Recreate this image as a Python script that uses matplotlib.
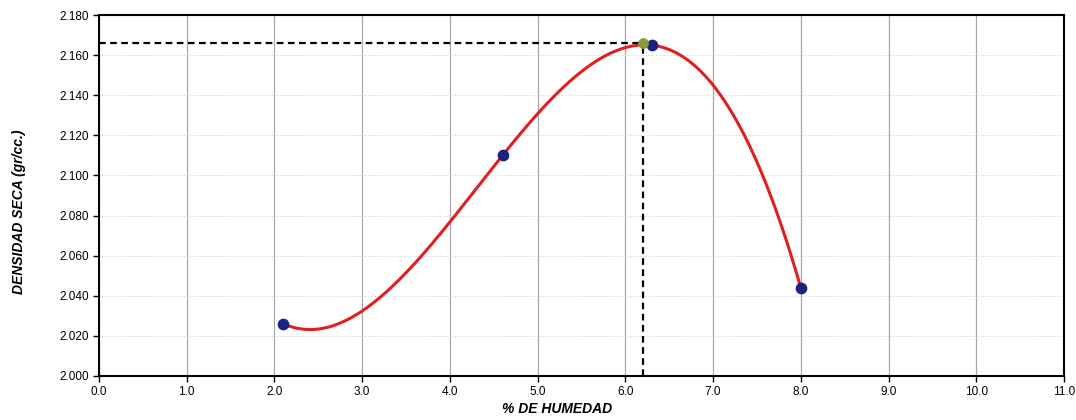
import numpy as np
import matplotlib.pyplot as plt

plt.rcParams['font.family'] = ['Liberation Sans', 'DejaVu Sans']

# Ensayo Proctor: humedad (%) vs densidad seca (gr/cc)
humedad = [2.1, 4.6, 6.3, 8.0]
densidad = [2.026, 2.110, 2.165, 2.044]

# optimo
hum_opt = 6.2
dens_max = 2.166

# curva cubica que pasa por los 4 puntos
coef = np.polyfit(humedad, densidad, 3)
xs = np.linspace(min(humedad), max(humedad), 300)
ys = np.polyval(coef, xs)

fig = plt.figure(figsize=(10.76, 4.2), dpi=100)
ax = fig.add_axes([0.092, 0.105, 0.8968, 0.859])

ax.plot(xs, ys, color='#e02020', lw=2.2, zorder=3)
ax.scatter(humedad, densidad, s=55, color='#1a237e', zorder=4)
ax.scatter([hum_opt], [dens_max], s=45, color='#8a9a3a', zorder=4)

ax.plot([0, hum_opt], [dens_max, dens_max], ls=(0, (3, 2)), color='black', lw=1.6, zorder=2)
ax.plot([hum_opt, hum_opt], [2.0, dens_max], ls=(0, (3, 2)), color='black', lw=1.6, zorder=2)

ax.set_xlim(0, 11)
ax.set_ylim(2.0, 2.18)
ax.set_xticks(np.arange(0, 11.1, 1.0))
ax.set_xticklabels(['%.1f' % v for v in np.arange(0, 11.1, 1.0)])
ax.set_yticks(np.arange(2.0, 2.181, 0.02))
ax.set_yticklabels(['%.3f' % v for v in np.arange(2.0, 2.181, 0.02)])
ax.tick_params(labelsize=8.5, length=4, width=1, direction='out')

ax.xaxis.grid(True, color='#a8a8a8', lw=0.9)
ax.yaxis.grid(True, color='#c8cce0', lw=0.7, ls=':')
ax.set_axisbelow(True)
for s in ax.spines.values():
    s.set_linewidth(1.5)

ax.set_xlabel('% DE HUMEDAD', fontsize=10, fontweight='bold', style='italic')
ax.set_ylabel('DENSIDAD SECA (gr/cc.)', fontsize=10, fontweight='bold', style='italic')
ax.xaxis.set_label_coords(0.475, -0.072)
ax.yaxis.set_label_coords(-0.076, 0.454)

fig.savefig('out.png', dpi=100)
